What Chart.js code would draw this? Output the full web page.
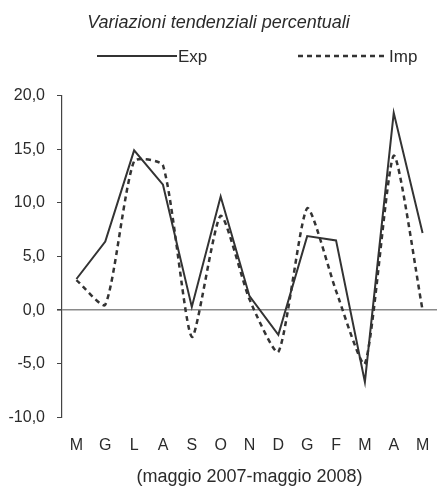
<!DOCTYPE html>
<html>
<head>
<meta charset="utf-8">
<script src="https://cdn.jsdelivr.net/npm/chart.js@4"></script>
<style>
  html, body { margin: 0; padding: 0; background: #ffffff; }
  #wrap { width: 437px; height: 486px; position: relative; }
</style>
</head>
<body>
<div id="wrap"><canvas id="c"></canvas></div>
<script>
// ---- data ----
const categories = ['M', 'G', 'L', 'A', 'S', 'O', 'N', 'D', 'G', 'F', 'M', 'A', 'M'];
const expValues = [2.9, 6.4, 14.9, 11.7, 0.3, 10.6, 1.3, -2.3, 6.9, 6.5, -6.7, 18.4, 7.2];
const impValues = [2.8, 0.5, 13.9, 13.5, -2.5, 8.8, 1.0, -3.9, 9.5, 1.8, -5.0, 14.4, 0.0];
const seriesNames = ['Exp', 'Imp'];
const chartTitle = 'Variazioni tendenziali percentuali';
const xAxisTitle = '(maggio 2007-maggio 2008)';
const yMin = -10;
const yMax = 20;
const yStep = 5;

const FONT = '"Liberation Sans", Arial, sans-serif';
const TEXT = '#2b2b2b';
const LINE = '#333333';

// custom legend: line sample directly followed by text
const legendPlugin = {
  id: 'lineLegend',
  afterDraw(chart) {
    const ctx = chart.ctx;
    const y = 56;
    const items = [
      { x0: 97, x1: 177, tx: 178 },
      { x0: 298, x1: 385, tx: 389 }
    ];
    ctx.save();
    chart.data.datasets.forEach((ds, i) => {
      const it = items[i];
      ctx.strokeStyle = ds.borderColor;
      ctx.lineWidth = ds.borderWidth;
      ctx.setLineDash(ds.borderDash || []);
      ctx.beginPath();
      ctx.moveTo(it.x0, y);
      ctx.lineTo(it.x1, y);
      ctx.stroke();
      ctx.setLineDash([]);
      ctx.fillStyle = TEXT;
      ctx.font = '17px ' + FONT;
      ctx.textAlign = 'left';
      ctx.textBaseline = 'middle';
      ctx.fillText(ds.label, it.tx, y + 1);
    });
    ctx.restore();
  }
};

new Chart(document.getElementById('c'), {
  type: 'line',
  data: {
    labels: categories,
    datasets: [
      {
        label: seriesNames[0],
        data: expValues,
        borderColor: LINE,
        backgroundColor: LINE,
        borderWidth: 2,
        tension: 0,
        pointRadius: 0,
        fill: false
      },
      {
        label: seriesNames[1],
        data: impValues,
        borderColor: LINE,
        backgroundColor: LINE,
        borderWidth: 2.5,
        borderDash: [5, 4],
        tension: 0.2,
        pointRadius: 0,
        fill: false
      }
    ]
  },
  options: {
    responsive: true,
    maintainAspectRatio: false,
    animation: false,
    layout: { padding: 0 },
    plugins: {
      legend: { display: false },
      tooltip: { enabled: false },
      title: {
        display: true,
        text: chartTitle,
        color: TEXT,
        font: { family: FONT, size: 18, style: 'italic', weight: 'normal' },
        padding: { top: 12, bottom: 62.1 }
      }
    },
    scales: {
      x: {
        offset: true,
        grid: { display: false, drawTicks: true, tickLength: 14 },
        border: { display: false },
        ticks: {
          color: TEXT,
          font: { family: FONT, size: 16 },
          padding: 5,
          maxRotation: 0,
          autoSkip: false
        },
        title: {
          display: true,
          text: xAxisTitle,
          color: TEXT,
          font: { family: FONT, size: 18 },
          padding: { top: 0, bottom: -2 }
        },
        afterFit(scale) { scale.height = 68.7; }
      },
      y: {
        min: yMin,
        max: yMax,
        grid: {
          drawOnChartArea: true,
          drawTicks: true,
          tickLength: 5,
          tickColor: '#444',
          color: (c) => (c.tick && c.tick.value === 0 ? '#8a8a8a' : 'rgba(0,0,0,0)'),
          lineWidth: (c) => (c.tick && c.tick.value === 0 ? 1.6 : 1)
        },
        border: { display: true, color: '#444', width: 1.2 },
        ticks: {
          stepSize: yStep,
          color: TEXT,
          font: { family: FONT, size: 16 },
          padding: 12,
          callback: (v) => v.toFixed(1).replace('.', ',')
        },
        afterFit(scale) { scale.width = 62; }
      }
    }
  },
  plugins: [legendPlugin]
});
</script>
</body>
</html>
